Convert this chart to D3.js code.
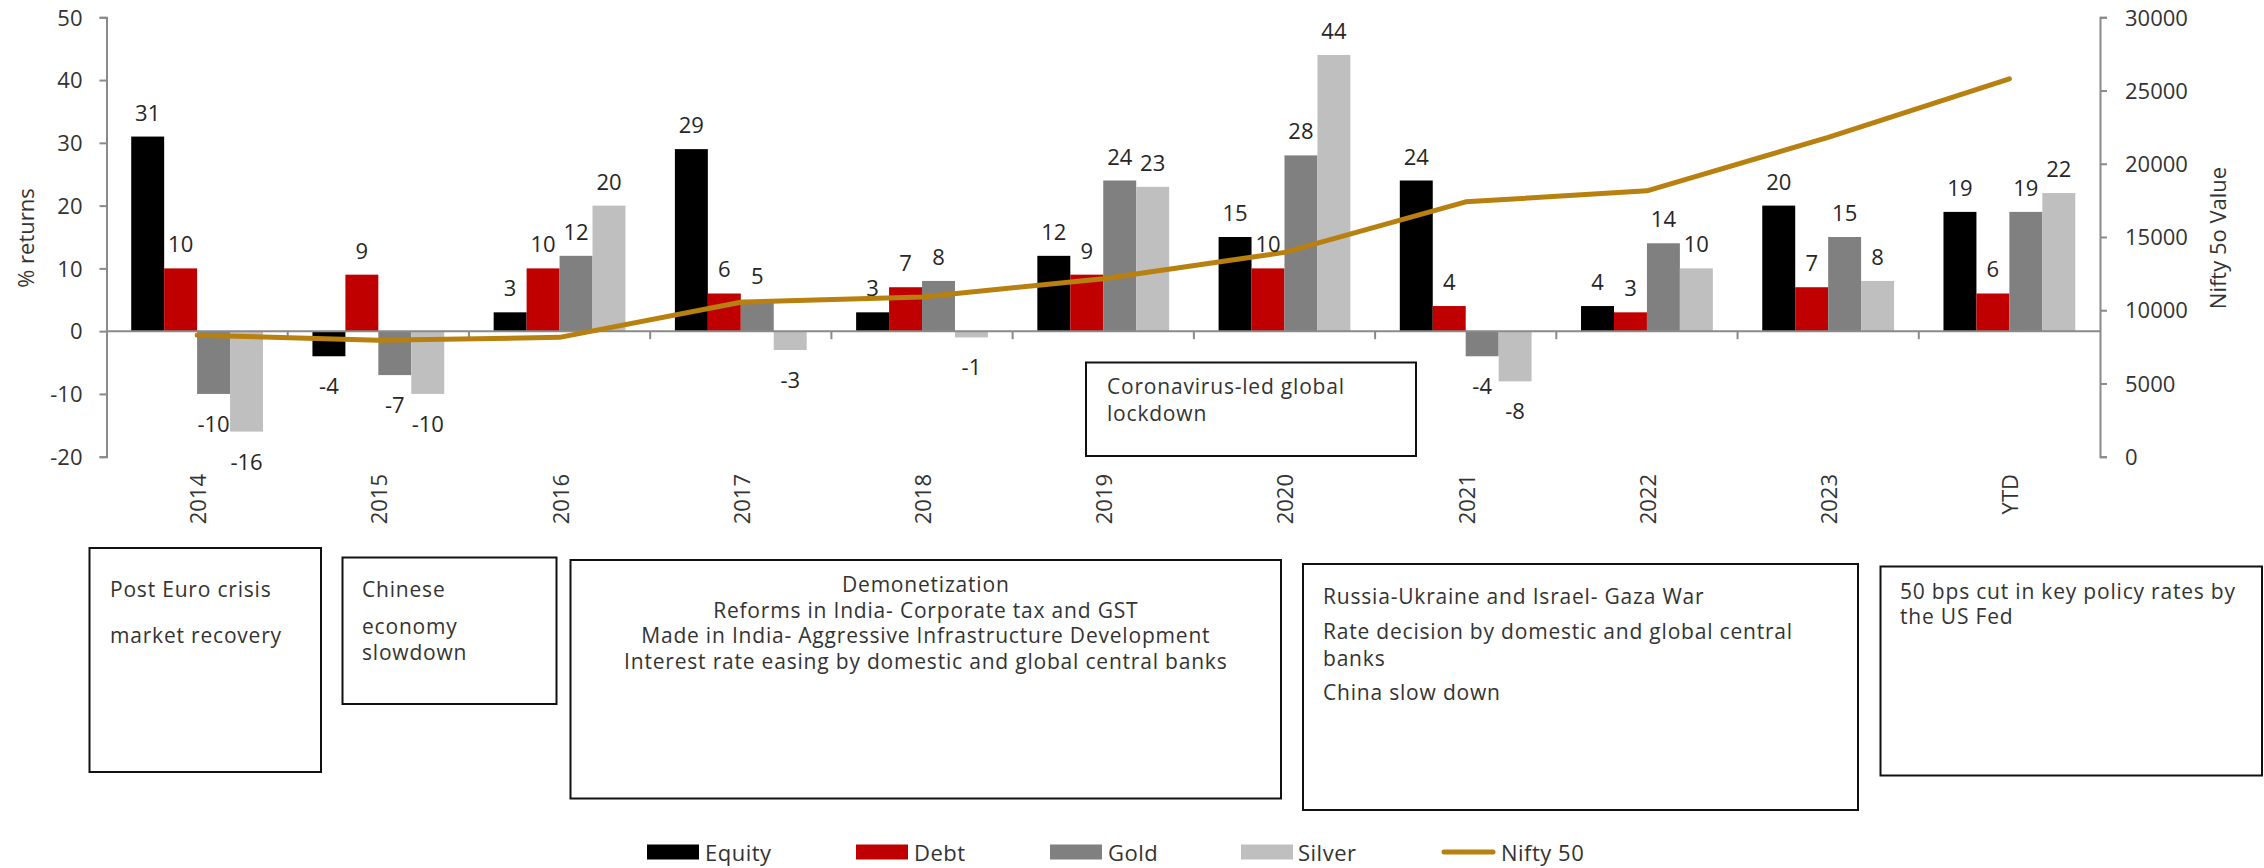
<!DOCTYPE html>
<html>
<head>
<meta charset="utf-8">
<script src="https://cdn.jsdelivr.net/npm/d3@7/dist/d3.min.js"></script>
<style>
  html, body { margin: 0; padding: 0; background: #fff; }
  svg { display: block; font-family: "Open Sans", Lato, sans-serif; }
  .axis text { fill: #333; font-size: 22px; font-family: "Open Sans", Lato, sans-serif; }
  .axis path, .axis line { stroke: #8a8a8a; stroke-width: 2; }
</style>
</head>
<body>
<svg id="chart" width="2264" height="868"></svg>
<script>
// Calendar-year buckets
const categories = ["2014", "2015", "2016", "2017", "2018", "2019", "2020", "2021", "2022", "2023", "YTD"];

// Annual returns (%) per asset class
const equity = [31, -4, 3, 29, 3, 12, 15, 24, 4, 20, 19];
const debt   = [10, 9, 10, 6, 7, 9, 10, 4, 3, 7, 6];
const gold   = [-10, -7, 12, 5, 8, 24, 28, -4, 14, 15, 19];
const silver = [-16, -10, 20, -3, -1, 23, 44, -8, 10, 8, 22];

// Nifty 50 level at each period end
const nifty = [8300, 7950, 8150, 10550, 10900, 12150, 13950, 17400, 18150, 21800, 25800];

const seriesNames = ["Equity", "Debt", "Gold", "Silver"];
const lineName = "Nifty 50";
const returnTicks = [-20, -10, 0, 10, 20, 30, 40, 50];
const niftyTicks = [0, 5000, 10000, 15000, 20000, 25000, 30000];

const leftTitle = "% returns";
const rightTitle = "Nifty 5o Value";

// Event notes shown in boxes
const notes = [
  ["Post Euro crisis", "market recovery"],
  ["Chinese", "economy", "slowdown"],
  ["Demonetization", "Reforms in India- Corporate tax and GST",
   "Made in India- Aggressive Infrastructure Development",
   "Interest rate easing by domestic and global central banks"],
  ["Coronavirus-led global", "lockdown"],
  ["Russia-Ukraine and Israel- Gaza War", "Rate decision by domestic and global central",
   "banks", "China slow down"],
  ["50 bps cut in key policy rates by", "the US Fed"]
];

// ---- layout ----
const colors = { Equity: "#000000", Debt: "#c00000", Gold: "#808080", Silver: "#bfbfbf" };
const lineColor = "#b8800f";
const textColor = "#333333";
const plot = { left: 106.5, right: 2100, top: 17.3, bottom: 456.7 };

const noteLayout = [
  { x0: 89.5,  y0: 548,   x1: 321,  y1: 772,   tx: 110,   align: "start",  ys: [589, 635] },
  { x0: 342.5, y0: 557.5, x1: 556.5, y1: 704,   tx: 362,   align: "start",  ys: [589, 626, 652] },
  { x0: 570.5, y0: 560,   x1: 1281,  y1: 798.5, tx: 925.8, align: "middle", ys: [584, 610, 635, 660.5] },
  { x0: 1086,  y0: 362.5, x1: 1416,  y1: 456,   tx: 1107,  align: "start",  ys: [385.5, 413] },
  { x0: 1303,  y0: 564,   x1: 1858,  y1: 810,   tx: 1323,  align: "start",  ys: [596, 631, 658, 692] },
  { x0: 1880.5,y0: 566.5, x1: 2262,  y1: 775.5, tx: 1900,  align: "start",  ys: [591, 616] }
];

const legendLayout = [
  { x: 647,  tx: 705 },
  { x: 856,  tx: 914 },
  { x: 1050, tx: 1108 },
  { x: 1241, tx: 1298 },
  { x: 1441, tx: 1501 }
];

const svg = d3.select("#chart");
const fmt = v => String(v);   // plain hyphen for negatives

// ---- scales ----
const x = d3.scaleBand().domain(categories).range([plot.left, plot.right]).padding(0);
const bw = x.bandwidth();
const xs = d3.scaleBand().domain(seriesNames)
  .range([bw * 0.75 / 5.5, bw - bw * 0.75 / 5.5]).padding(0);
const yL = d3.scaleLinear().domain([-20, 50]).range([plot.bottom, plot.top]);
const yR = d3.scaleLinear().domain([0, 30000]).range([plot.bottom, plot.top]);

const seriesData = [equity, debt, gold, silver];

// ---- bars ----
const barG = svg.append("g");
seriesNames.forEach((name, si) => {
  barG.selectAll(null)
    .data(seriesData[si].map((v, i) => ({ cat: categories[i], v })))
    .join("rect")
    .attr("x", d => x(d.cat) + xs(name))
    .attr("width", xs.bandwidth())
    .attr("y", d => yL(Math.max(0, d.v)))
    .attr("height", d => Math.abs(yL(d.v) - yL(0)))
    .attr("fill", colors[name]);
});

// ---- zero axis with category ticks ----
const zeroY = yL(0);
svg.append("line")
  .attr("x1", plot.left).attr("x2", plot.right)
  .attr("y1", zeroY).attr("y2", zeroY)
  .attr("stroke", "#8a8a8a").attr("stroke-width", 2);
svg.append("g").selectAll("line")
  .data(categories.slice(1))
  .join("line")
  .attr("x1", d => x(d)).attr("x2", d => x(d))
  .attr("y1", zeroY).attr("y2", zeroY + 8)
  .attr("stroke", "#8a8a8a").attr("stroke-width", 2);

// ---- left and right axes ----
svg.append("g").attr("class", "axis")
  .attr("transform", `translate(${plot.left},0)`)
  .call(d3.axisLeft(yL).tickValues(returnTicks).tickSize(7).tickPadding(17).tickFormat(fmt))
  .call(g => g.selectAll("text").attr("dy", "0.35em"));

svg.append("g").attr("class", "axis")
  .attr("transform", `translate(${plot.right},0)`)
  .call(d3.axisRight(yR).tickValues(niftyTicks).tickSize(7).tickPadding(18).tickFormat(fmt))
  .call(g => g.selectAll("text").attr("dy", "0.35em"));

// axis titles
svg.append("text")
  .attr("transform", `translate(25,238) rotate(-90)`)
  .attr("text-anchor", "middle").attr("dominant-baseline", "central")
  .attr("font-size", 22).attr("fill", textColor)
  .text(leftTitle);
svg.append("text")
  .attr("transform", `translate(2217,238) rotate(-90)`)
  .attr("text-anchor", "middle").attr("dominant-baseline", "central")
  .attr("font-size", 22).attr("fill", textColor)
  .text(rightTitle);

// category labels (rotated, below plot)
svg.append("g").selectAll("text")
  .data(categories)
  .join("text")
  .attr("transform", d => `translate(${x(d) + bw / 2},474) rotate(-90)`)
  .attr("text-anchor", "end").attr("dominant-baseline", "central")
  .attr("font-size", 22).attr("fill", textColor)
  .text(d => d);

// ---- Nifty 50 line ----
const line = d3.line()
  .x((d, i) => x(categories[i]) + bw / 2)
  .y(d => yR(d));
svg.append("path")
  .datum(nifty)
  .attr("d", line)
  .attr("fill", "none")
  .attr("stroke", lineColor)
  .attr("stroke-width", 5)
  .attr("stroke-linejoin", "round")
  .attr("stroke-linecap", "round");

// ---- data labels ----
const labelG = svg.append("g").attr("font-size", 22).attr("fill", "#262626");
seriesNames.forEach((name, si) => {
  labelG.selectAll(null)
    .data(seriesData[si].map((v, i) => ({ cat: categories[i], v })))
    .join("text")
    .attr("x", d => x(d.cat) + xs(name) + xs.bandwidth() / 2)
    .attr("y", d => d.v >= 0 ? yL(d.v) - 25 : yL(d.v) + 29)
    .attr("text-anchor", "middle")
    .attr("dominant-baseline", "central")
    .text(d => fmt(d.v));
});

// ---- note boxes ----
const noteG = svg.append("g");
notes.forEach((lines, i) => {
  const L = noteLayout[i];
  noteG.append("rect")
    .attr("x", L.x0).attr("y", L.y0)
    .attr("width", L.x1 - L.x0).attr("height", L.y1 - L.y0)
    .attr("fill", "#fff").attr("stroke", "#111").attr("stroke-width", 2);
  lines.forEach((t, j) => {
    noteG.append("text")
      .attr("x", L.tx).attr("y", L.ys[j])
      .attr("text-anchor", L.align)
      .attr("dominant-baseline", "central")
      .attr("font-size", 21).attr("letter-spacing", 0.8)
      .attr("fill", textColor)
      .text(t);
  });
});

// ---- legend ----
const legendNames = seriesNames.concat([lineName]);
const legendY = 852;
const lg = svg.append("g").attr("font-size", 22).attr("fill", textColor).attr("letter-spacing", 0.5);
legendNames.forEach((name, i) => {
  const L = legendLayout[i];
  if (name === lineName) {
    lg.append("line")
      .attr("x1", L.x + 3).attr("x2", L.x + 52)
      .attr("y1", legendY).attr("y2", legendY)
      .attr("stroke", lineColor).attr("stroke-width", 5)
      .attr("stroke-linecap", "round");
  } else {
    lg.append("rect")
      .attr("x", L.x).attr("y", legendY - 7.5)
      .attr("width", 52).attr("height", 15)
      .attr("fill", colors[name]);
  }
  lg.append("text")
    .attr("x", L.tx).attr("y", legendY)
    .attr("dominant-baseline", "central")
    .text(name);
});
</script>
</body>
</html>
